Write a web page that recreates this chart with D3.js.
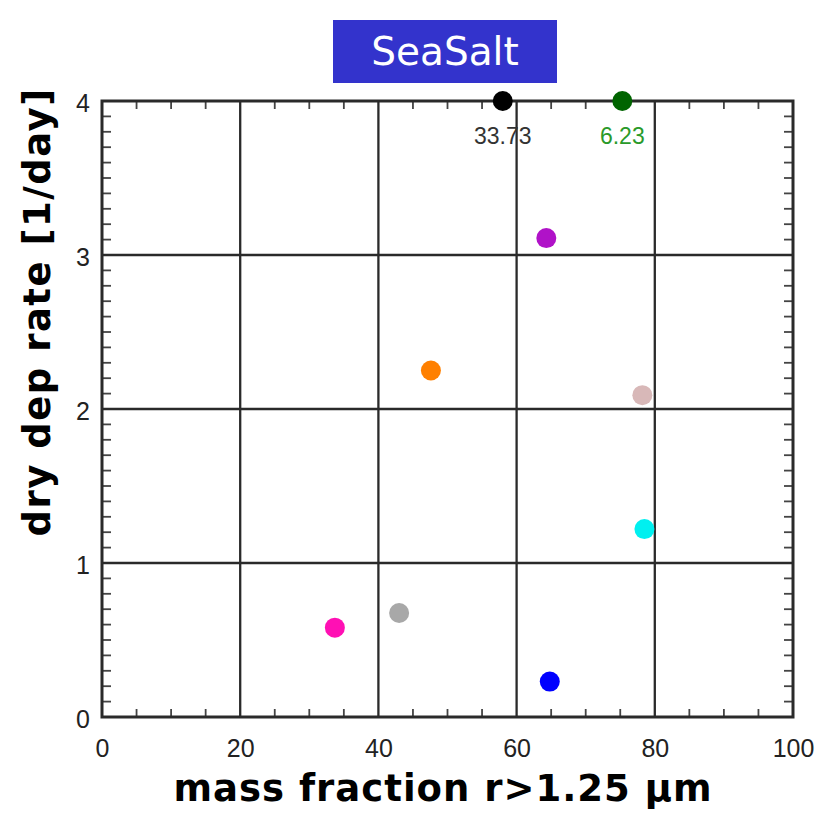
<!DOCTYPE html>
<html>
<head>
<meta charset="utf-8">
<script src="https://cdn.jsdelivr.net/npm/d3@7/dist/d3.min.js"></script>
<style>
  html, body { margin: 0; padding: 0; background: #fff; }
  svg { display: block; }
</style>
</head>
<body>
<svg id="chart" width="816" height="813"></svg>
<script>
// Sea-salt models: share of mass above r = 1.25 µm vs dry deposition rate
const modelColors = ["#000000", "#006400", "#b012c8", "#ff8000", "#d8b8b8", "#00f0f0", "#a8a8a8", "#ff10b4", "#0000ff"];
const massFraction = [58.0, 75.3, 64.3, 47.6, 78.2, 78.5, 43.0, 33.7, 64.8];
const dryDepRate   = [33.73, 6.23, 3.11, 2.25, 2.09, 1.22, 0.675, 0.58, 0.23];
const xTicks = [0, 20, 40, 60, 80, 100];
const yTicks = [0, 1, 2, 3, 4];
const titleText = "SeaSalt";
const xTitle = "mass fraction r>1.25 \u03bcm";
const yTitle = "dry dep rate [1/day]";

const svg = d3.select("#chart");
const plotLeft = 102, plotRight = 793, plotTop = 101, plotBottom = 717;

const x = d3.scaleLinear().domain([0, 100]).range([plotLeft, plotRight]);
const y = d3.scaleLinear().domain([0, 4]).range([plotBottom, plotTop]);
const yClamped = y.copy().clamp(true);

const frameColor = "#2a2a2a";
const labelFont = "'Liberation Sans', Arial, sans-serif";
const titleFont = "'Comic Sans MS', 'DejaVu Sans', sans-serif";

// grid lines at the major ticks
svg.append("g").selectAll("line").data(xTicks.slice(1, -1)).join("line")
  .attr("x1", d => x(d)).attr("x2", d => x(d)).attr("y1", plotTop).attr("y2", plotBottom)
  .attr("stroke", frameColor).attr("stroke-width", 2.3);
svg.append("g").selectAll("line").data(yTicks.slice(1, -1)).join("line")
  .attr("y1", d => y(d)).attr("y2", d => y(d)).attr("x1", plotLeft).attr("x2", plotRight)
  .attr("stroke", frameColor).attr("stroke-width", 2.3);

// minor ticks on all four sides
const xMinor = d3.range(0, 101, 5).filter(v => v % 20 !== 0);
const yMinor = d3.range(0, 40).map(i => i / 10).filter(v => Math.abs(v - Math.round(v)) > 1e-6);
const tickG = svg.append("g").attr("stroke", "#444").attr("stroke-width", 1.8);
xMinor.forEach(v => {
  tickG.append("line").attr("x1", x(v)).attr("x2", x(v)).attr("y1", plotBottom).attr("y2", plotBottom - 8);
  tickG.append("line").attr("x1", x(v)).attr("x2", x(v)).attr("y1", plotTop).attr("y2", plotTop + 8);
});
yMinor.forEach(v => {
  tickG.append("line").attr("y1", y(v)).attr("y2", y(v)).attr("x1", plotLeft).attr("x2", plotLeft + 9);
  tickG.append("line").attr("y1", y(v)).attr("y2", y(v)).attr("x1", plotRight).attr("x2", plotRight - 9);
});

// plot frame
svg.append("rect").attr("x", plotLeft).attr("y", plotTop)
  .attr("width", plotRight - plotLeft).attr("height", plotBottom - plotTop)
  .attr("fill", "none").attr("stroke", frameColor).attr("stroke-width", 3);

// axes tick labels (axis lines hidden, frame drawn above)
const xAxis = svg.append("g").attr("transform", `translate(0,${plotBottom})`)
  .call(d3.axisBottom(x).tickValues(xTicks).tickSize(0).tickPadding(22).tickFormat(d3.format("d")));
const yAxis = svg.append("g").attr("transform", `translate(${plotLeft},0)`)
  .call(d3.axisLeft(y).tickValues(yTicks).tickSize(0).tickPadding(12).tickFormat(d3.format("d")));
[xAxis, yAxis].forEach(g => {
  g.select(".domain").remove();
  g.selectAll("text").attr("font-family", labelFont).attr("font-size", 25).attr("fill", "#222");
});
yAxis.selectAll("text").attr("dy", "0.4em");

// model points; values above the scale sit on the top edge and carry their value
const pts = massFraction.map((m, i) => ({ m, r: dryDepRate[i], c: modelColors[i] }));
svg.append("g").selectAll("circle").data(pts).join("circle")
  .attr("cx", d => x(d.m)).attr("cy", d => yClamped(d.r))
  .attr("r", 10).attr("fill", d => d.c);

const offScale = pts.filter(d => d.r > 4);
svg.append("g").selectAll("text").data(offScale).join("text")
  .attr("x", d => x(d.m)).attr("y", plotTop + 43)
  .attr("text-anchor", "middle")
  .attr("font-family", labelFont).attr("font-size", 23)
  .attr("fill", d => d.c === "#000000" ? "#333" : "#2a9a2a")
  .text(d => d3.format(".2f")(d.r));

// title box
svg.append("rect").attr("x", 333).attr("y", 20).attr("width", 224).attr("height", 63).attr("fill", "#3333cc");
svg.append("text").attr("x", 445).attr("y", 65).attr("text-anchor", "middle")
  .attr("font-family", titleFont).attr("font-size", 39).attr("fill", "#fff")
  .text(titleText);

// axis titles
svg.append("text").attr("x", 443).attr("y", 801).attr("text-anchor", "middle")
  .attr("font-family", titleFont).attr("font-weight", "bold").attr("font-size", 37)
  .attr("letter-spacing", 1).attr("fill", "#000")
  .text(xTitle);
svg.append("text").attr("transform", "translate(50,312) rotate(-90)").attr("text-anchor", "middle")
  .attr("font-family", titleFont).attr("font-weight", "bold").attr("font-size", 37)
  .attr("letter-spacing", 1.5).attr("fill", "#000")
  .text(yTitle);
</script>
</body>
</html>
